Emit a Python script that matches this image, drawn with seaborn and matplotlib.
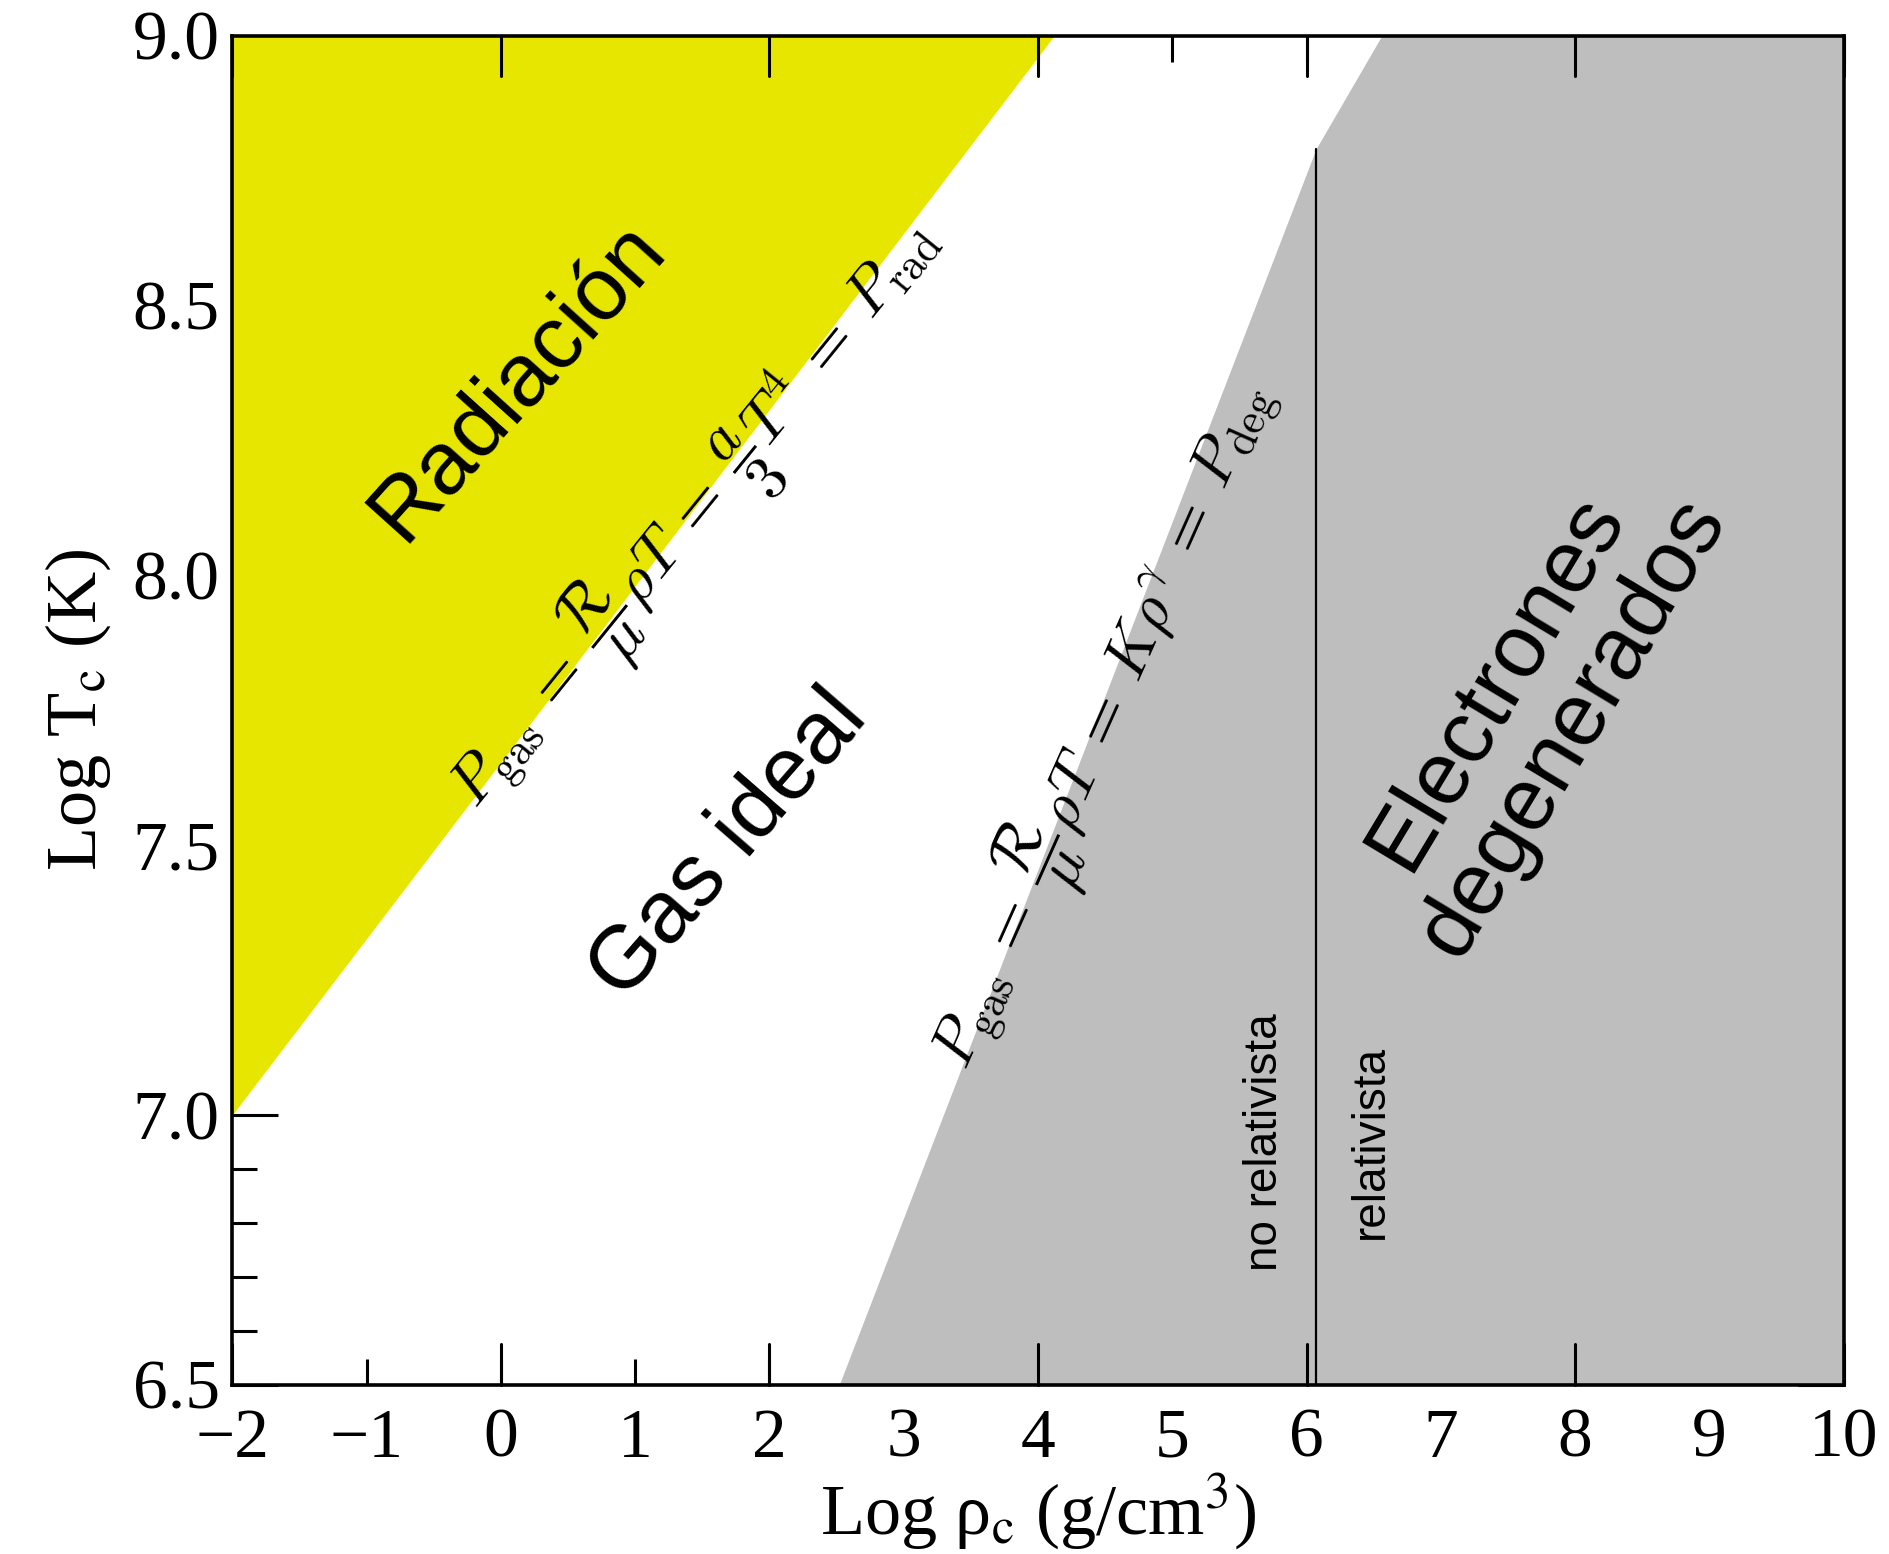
import numpy as np
import matplotlib
matplotlib.use("Agg")
import matplotlib.pyplot as plt
import seaborn as sns
from matplotlib.ticker import MultipleLocator

sns.set_style("ticks")
plt.rcParams["font.family"] = ["Liberation Serif", "DejaVu Serif"]
plt.rcParams.update({"text.color": "black", "axes.edgecolor": "black",
                     "axes.labelcolor": "black", "xtick.color": "black",
                     "ytick.color": "black"})

YELLOW = "#e6e600"
GREY   = "#bebebe"

# ── data (log rho_c, log T_c) ─────────────────────────────────────────────────
rad_rho  = [-2.0, 4.12]          # radiation / ideal gas boundary
rad_logT = [7.0, 9.0]
deg_rho  = [2.52, 6.07, 6.56]    # ideal gas / degenerate boundary
deg_logT = [6.5, 8.79, 9.0]
rel_rho  = 6.07                   # non-relativistic / relativistic divide
rel_top  = 8.79

XLIM = (-2, 10)
YLIM = (6.5, 9.0)

fig, ax = plt.subplots(figsize=(18.89, 15.54), dpi=100)
fig.subplots_adjust(left=0.123, right=0.976, top=0.977, bottom=0.109)

ax.fill_between(rad_rho, rad_logT, YLIM[1], color=YELLOW, lw=0, zorder=1)
ax.fill_betweenx(deg_logT, deg_rho, XLIM[1], color=GREY, lw=0, zorder=1)
ax.plot([rel_rho, rel_rho], [YLIM[0], rel_top], color="black", lw=1.6, zorder=2)

ax.set_xlim(*XLIM)
ax.set_ylim(*YLIM)

# ticks: majors every 2 / 0.5, minors every 1 / 0.1, every integer labelled
ax.yaxis.set_minor_locator(MultipleLocator(0.1))
ax.set_xticks(np.arange(-2, 11, 1))
ax.set_xticklabels(["\u2212" + str(-v) if v < 0 else str(v) for v in range(-2, 11)])
ax.set_yticks(np.arange(6.5, 9.01, 0.5))
ax.set_yticklabels([f"{v:.1f}" for v in np.arange(6.5, 9.01, 0.5)])

ax.tick_params(which="both", direction="in", top=True, right=True,
               width=2.2, color="black", labelsize=50, zorder=5)
ax.tick_params(axis="y", which="major", length=33, pad=9)
ax.tick_params(axis="y", which="minor", length=18)
ax.tick_params(axis="x", which="major", length=19, pad=17)
# long ticks at even x values
for xv in range(-2, 11, 2):
    ax.plot([xv, xv], [YLIM[0], YLIM[0] + 0.075], color="black", lw=2.2, zorder=5,
            clip_on=False)
    ax.plot([xv, xv], [YLIM[1], YLIM[1] - 0.075], color="black", lw=2.2, zorder=5,
            clip_on=False)
for side in ax.spines.values():
    side.set_linewidth(2.6)
    side.set_zorder(6)

ax.set_xlabel("Log ρ$_{\\mathrm{c}}$ (g/cm$^{3}$)", fontsize=52, labelpad=0,
              math_fontfamily="stix")
ax.set_ylabel("Log T$_{\\mathrm{c}}$ (K)", fontsize=52, labelpad=14,
              math_fontfamily="stix")

sans = ["Liberation Sans", "DejaVu Sans"]
ax.text(0.13, 8.36, "Radiación", rotation=48, fontsize=64, family=sans,
        ha="center", va="center", rotation_mode="anchor")
ax.text(1.70, 7.50, "Gas ideal", rotation=49, fontsize=64, family=sans,
        ha="center", va="center", rotation_mode="anchor")
ax.text(7.70, 7.76, "Electrones\ndegenerados", rotation=59, fontsize=64,
        family=sans, ha="center", va="center", rotation_mode="anchor",
        multialignment="center", linespacing=1.08)
ax.text(5.69, 6.95, "no relativista", rotation=90, fontsize=33, family=sans,
        ha="center", va="center")
ax.text(6.48, 6.95, "relativista", rotation=90, fontsize=33, family=sans,
        ha="center", va="center")

eq_rad = (r"$P_{\rm gas}\:=\:\dfrac{\mathcal{R}}{\mu}\rho T\:=\:\dfrac{a}{3}T^4"
          r"\:=\:P_{\rm rad}$")
eq_deg = (r"$P_{\rm gas}\:=\:\dfrac{\mathcal{R}}{\mu}\rho T\:=\:K\rho^{\gamma}"
          r"\:=\:P_{\rm deg}$")
ax.text(1.45, 8.11, eq_rad, rotation=51, fontsize=45, math_fontfamily="cm",
        ha="center", va="center", rotation_mode="anchor")
ax.text(4.49, 7.72, eq_deg, rotation=66, fontsize=45, math_fontfamily="cm",
        ha="center", va="center", rotation_mode="anchor")

fig.savefig("out.png", dpi=100, facecolor="white")
